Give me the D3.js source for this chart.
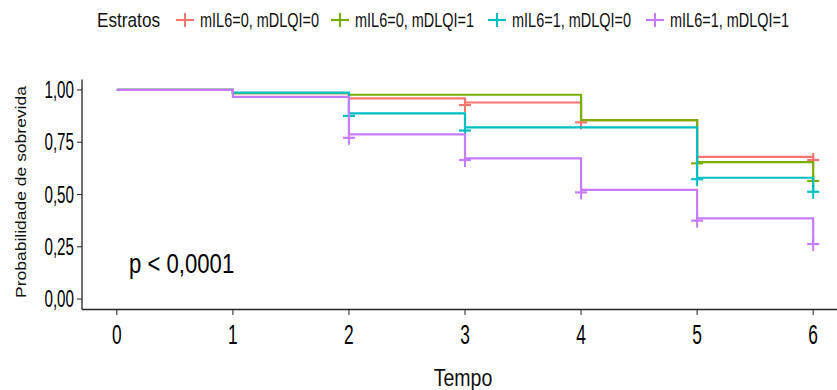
<!DOCTYPE html>
<meta charset="utf-8" />
<style>
  body { margin: 0; background: #fff; }
  text { font-family: "Liberation Sans", Arial, sans-serif; }
</style>
<body>
  <div id="grafico"></div>
  <script src="https://cdn.jsdelivr.net/npm/d3@7"></script>
  <script>
    // tempos e probabilidades
    const tempos = [0, 1, 2, 3, 4, 5, 6];
    const estratos = ["mIL6=0, mDLQI=0", "mIL6=0, mDLQI=1", "mIL6=1, mDLQI=0", "mIL6=1, mDLQI=1"];
    const cores = ["#F8766D", "#7CAE00", "#00BFC4", "#C77CFF"];

    const sobrevida00 = [1, 0.985, 0.96, 0.94, 0.856, 0.68, 0.665];
    const sobrevida01 = [1, 0.985, 0.977, 0.977, 0.856, 0.655, 0.565];
    const sobrevida10 = [1, 0.987, 0.888, 0.821, 0.821, 0.58, 0.513];
    const sobrevida11 = [1, 0.967, 0.788, 0.673, 0.522, 0.386, 0.263];

    // marcas de censura (tempo, probabilidade)
    const censuraTempo00 = [3, 4, 6];
    const censuraProb00 = [0.928, 0.845, 0.665];
    const censuraTempo01 = [5, 6];
    const censuraProb01 = [0.649, 0.565];
    const censuraTempo10 = [2, 3, 5, 6];
    const censuraProb10 = [0.876, 0.806, 0.573, 0.513];
    const censuraTempo11 = [2, 3, 4, 5, 6];
    const censuraProb11 = [0.771, 0.665, 0.51, 0.375, 0.263];

    const ticksY = [0, 0.25, 0.5, 0.75, 1];
    const ticksX = [0, 1, 2, 3, 4, 5, 6];

    const curvas = [
      { nome: estratos[0], cor: cores[0], s: sobrevida00, ct: censuraTempo00, cp: censuraProb00 },
      { nome: estratos[1], cor: cores[1], s: sobrevida01, ct: censuraTempo01, cp: censuraProb01 },
      { nome: estratos[2], cor: cores[2], s: sobrevida10, ct: censuraTempo10, cp: censuraProb10 },
      { nome: estratos[3], cor: cores[3], s: sobrevida11, ct: censuraTempo11, cp: censuraProb11 },
    ];

    const width = 837;
    const height = 390;
    const fmt = (v) => d3.format(".2f")(v).replace(".", ",");

    const svg = d3.select("#grafico").append("svg").attr("width", width).attr("height", height);

    const x = d3.scaleLinear().domain([-0.3, 6.3]).range([82, 848]);
    const y = d3.scaleLinear().domain([-0.05, 1.05]).range([309.5, 79.5]);

    // curvas em degrau
    const linha = d3
      .line()
      .x((d) => x(d[0]))
      .y((d) => y(d[1]))
      .curve(d3.curveStepAfter);

    curvas.forEach((c) => {
      svg
        .append("path")
        .attr("d", linha(tempos.map((t, i) => [t, c.s[i]])))
        .attr("fill", "none")
        .attr("stroke", c.cor)
        .attr("stroke-width", 2.2);

      const marcas = svg
        .selectAll(null)
        .data(c.ct.map((t, i) => [t, c.cp[i]]))
        .enter()
        .append("g")
        .attr("transform", (d) => "translate(" + x(d[0]) + "," + y(d[1]) + ")");
      marcas.append("line").attr("x1", -6).attr("x2", 6).attr("stroke", c.cor).attr("stroke-width", 2.2);
      marcas.append("line").attr("y1", -7).attr("y2", 7).attr("stroke", c.cor).attr("stroke-width", 2);
    });

    // eixos
    svg.append("line").attr("x1", 82).attr("x2", 82).attr("y1", 79.5).attr("y2", 309.5).attr("stroke", "#222").attr("stroke-width", 1.3);
    svg.append("line").attr("x1", 82).attr("x2", width).attr("y1", 309.5).attr("y2", 309.5).attr("stroke", "#222").attr("stroke-width", 1.3);

    svg
      .selectAll(".tickY")
      .data(ticksY)
      .enter()
      .append("line")
      .attr("x1", 77)
      .attr("x2", 82)
      .attr("y1", (d) => y(d))
      .attr("y2", (d) => y(d))
      .attr("stroke", "#333")
      .attr("stroke-width", 1.1);

    svg
      .selectAll(".rotuloY")
      .data(ticksY)
      .enter()
      .append("text")
      .attr("transform", (d) => "translate(74," + (y(d) + 8) + ") scale(0.66,1)")
      .attr("text-anchor", "end")
      .attr("font-size", "23px")
      .attr("fill", "#000")
      .text((d) => fmt(d));

    svg
      .selectAll(".tickX")
      .data(ticksX)
      .enter()
      .append("line")
      .attr("x1", (d) => x(d))
      .attr("x2", (d) => x(d))
      .attr("y1", 309.5)
      .attr("y2", 315)
      .attr("stroke", "#333")
      .attr("stroke-width", 1.1);

    svg
      .selectAll(".rotuloX")
      .data(ticksX)
      .enter()
      .append("text")
      .attr("transform", (d) => "translate(" + x(d) + ",344) scale(0.62,1)")
      .attr("text-anchor", "middle")
      .attr("font-size", "28px")
      .attr("fill", "#000")
      .text((d) => d);

    // titulos
    svg
      .append("text")
      .attr("transform", "translate(463,386) scale(0.85,1)")
      .attr("text-anchor", "middle")
      .attr("font-size", "23px")
      .attr("fill", "#111")
      .text("Tempo");

    svg
      .append("text")
      .attr("transform", "translate(26,192) rotate(-90) scale(1,0.8)")
      .attr("text-anchor", "middle")
      .attr("font-size", "17.5px")
      .attr("fill", "#111")
      .text("Probabilidade de sobrevida");

    svg
      .append("text")
      .attr("transform", "translate(129,273) scale(0.82,1)")
      .attr("font-size", "27px")
      .attr("fill", "#000")
      .text("p < 0,0001");

    // legenda
    const leg = svg.append("g").attr("transform", "translate(0,20)");
    leg
      .append("text")
      .attr("transform", "translate(97,7) scale(0.86,1)")
      .attr("font-size", "20px")
      .attr("fill", "#111")
      .text("Estratos");

    const posLegenda = [185, 340, 497, 655];
    curvas.forEach((c, i) => {
      const g = leg.append("g").attr("transform", "translate(" + posLegenda[i] + ",0)");
      g.append("line").attr("x1", -9).attr("x2", 9).attr("stroke", c.cor).attr("stroke-width", 2.2);
      g.append("line").attr("y1", -7).attr("y2", 7).attr("stroke", c.cor).attr("stroke-width", 2);
      g.append("text")
        .attr("transform", "translate(15,7) scale(0.69,1)")
        .attr("font-size", "21px")
        .attr("fill", "#111")
        .text(c.nome);
    });
  </script>
</body>
